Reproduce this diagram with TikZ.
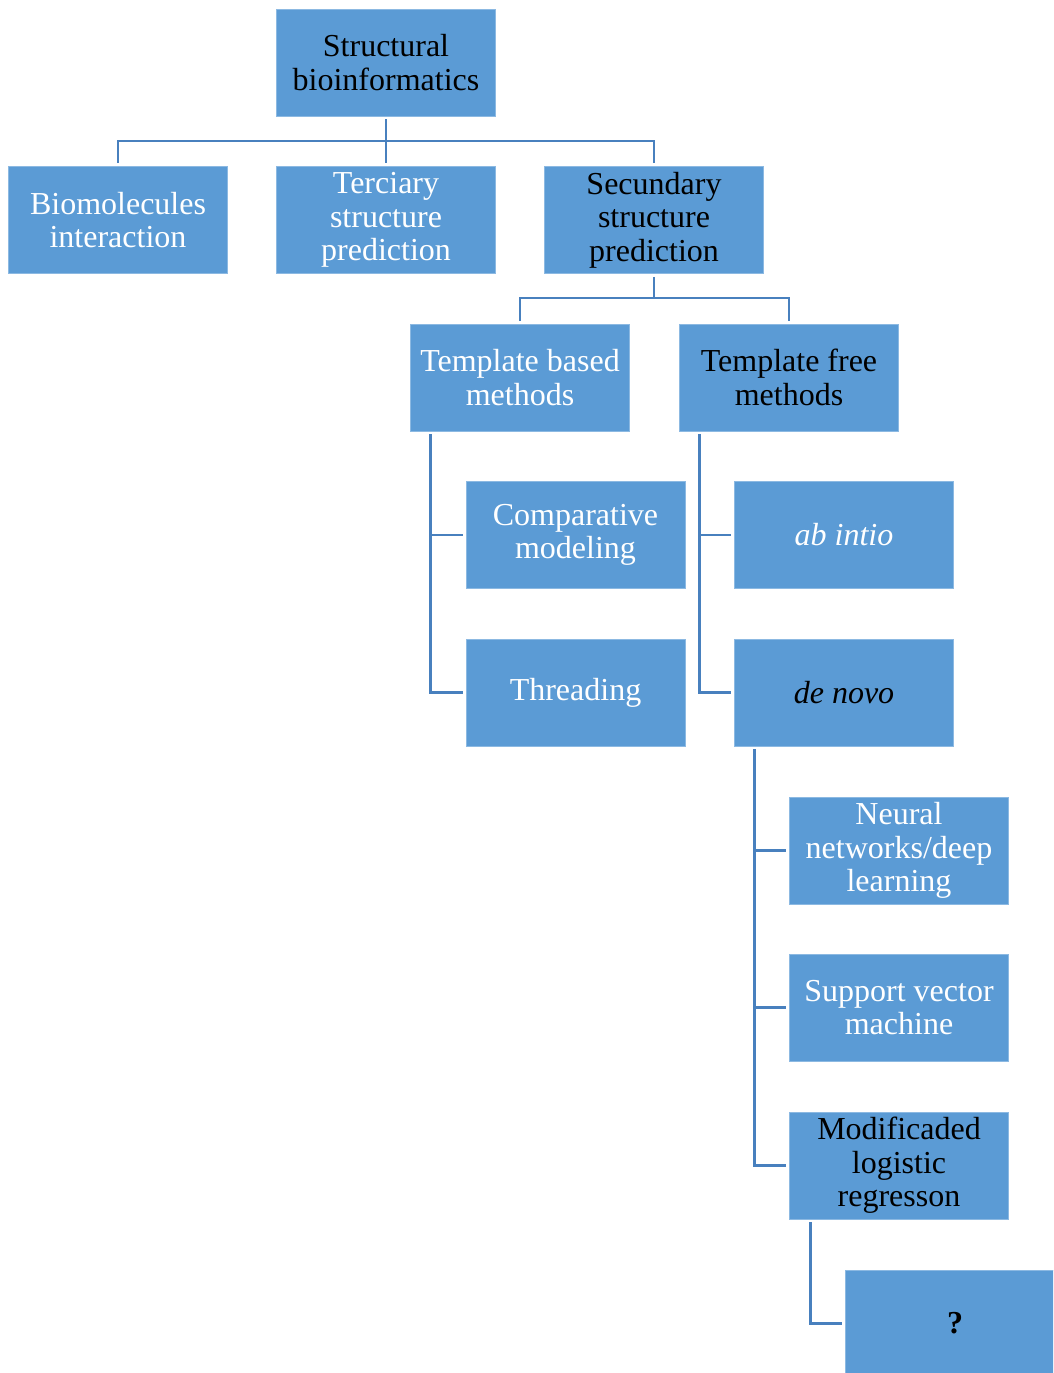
\documentclass[tikz,border=0pt]{standalone}
\usepackage{fontspec}
\setmainfont{Liberation Serif}
\definecolor{boxblue}{RGB}{91,155,213}
\definecolor{lineblue}{RGB}{72,128,190}
\begin{document}
\begin{tikzpicture}[x=1pt,y=-1pt,
  box/.style={rectangle, fill=boxblue, draw=boxblue!70!white, line width=0.6pt,
    minimum width=219pt, minimum height=107pt, inner sep=0pt, align=center,
    font=\fontsize{32}{33.5}\selectfont},
  wt/.style={text=white},
  bk/.style={text=black},
  conn/.style={draw=lineblue, line width=2.6pt}]
\path[use as bounding box, clip] (0,0) rectangle (1053,1373);
\node[box,bk] (sb)  at (386,62.5) {Structural\\bioinformatics};
\node[box,wt] (bi)  at (118,220) {Biomolecules\\interaction};
\node[box,wt] (tsp) at (386,220) {Terciary\\structure\\prediction};
\node[box,bk] (ssp) at (654,220) {Secundary\\structure\\prediction};
\node[box,wt] (tbm) at (520,377.5) {Template based\\methods};
\node[box,bk] (tfm) at (789,377.5) {Template free\\methods};
\node[box,wt] (cm)  at (575.5,535) {Comparative\\modeling};
\node[box,wt] (ab)  at (844,535) {\itshape ab intio};
\node[box,wt] (th)  at (575.5,692.5) {Threading};
\node[box,bk] (dn)  at (844,692.5) {\itshape de novo};
\node[box,wt] (nn)  at (899,850.5) {Neural\\networks/deep\\learning};
\node[box,wt] (svm) at (899,1007.5) {Support vector\\machine};
\node[box,bk] (ml)  at (899,1165.5) {Modificaded\\logistic\\regresson};
\node[box,bk] (q)   at (955,1323.5) {\bfseries ?};

% level 1
\coordinate (j1) at (386,141);
\draw[conn] ([yshift=-3pt]sb.south) -- ([yshift=3pt]tsp.north);
\draw[conn] ([yshift=3pt]bi.north) |- (j1) -| ([yshift=3pt]ssp.north);
% level 2
\coordinate (j2) at (654,298);
\draw[conn] ([yshift=-3pt]ssp.south) -- (j2);
\draw[conn] ([yshift=3pt]tbm.north) |- (j2) -| ([yshift=3pt]tfm.north);
% template based
\coordinate (s1) at ([xshift=20pt,yshift=-3pt]tbm.south west);
\draw[conn] (s1) |- ([xshift=-3pt]th.west);
\draw[conn] (s1 |- cm.west) -- ([xshift=-3pt]cm.west);
% template free
\coordinate (s2) at ([xshift=20pt,yshift=-3pt]tfm.south west);
\draw[conn] (s2) |- ([xshift=-3pt]dn.west);
\draw[conn] (s2 |- ab.west) -- ([xshift=-3pt]ab.west);
% de novo
\coordinate (s3) at ([xshift=20pt,yshift=-3pt]dn.south west);
\draw[conn] (s3) |- ([xshift=-3pt]ml.west);
\draw[conn] (s3 |- nn.west) -- ([xshift=-3pt]nn.west);
\draw[conn] (s3 |- svm.west) -- ([xshift=-3pt]svm.west);
% logistic
\coordinate (s4) at ([xshift=21pt,yshift=-3pt]ml.south west);
\draw[conn] (s4) |- ([xshift=-3pt]q.west);
\end{tikzpicture}
\end{document}
